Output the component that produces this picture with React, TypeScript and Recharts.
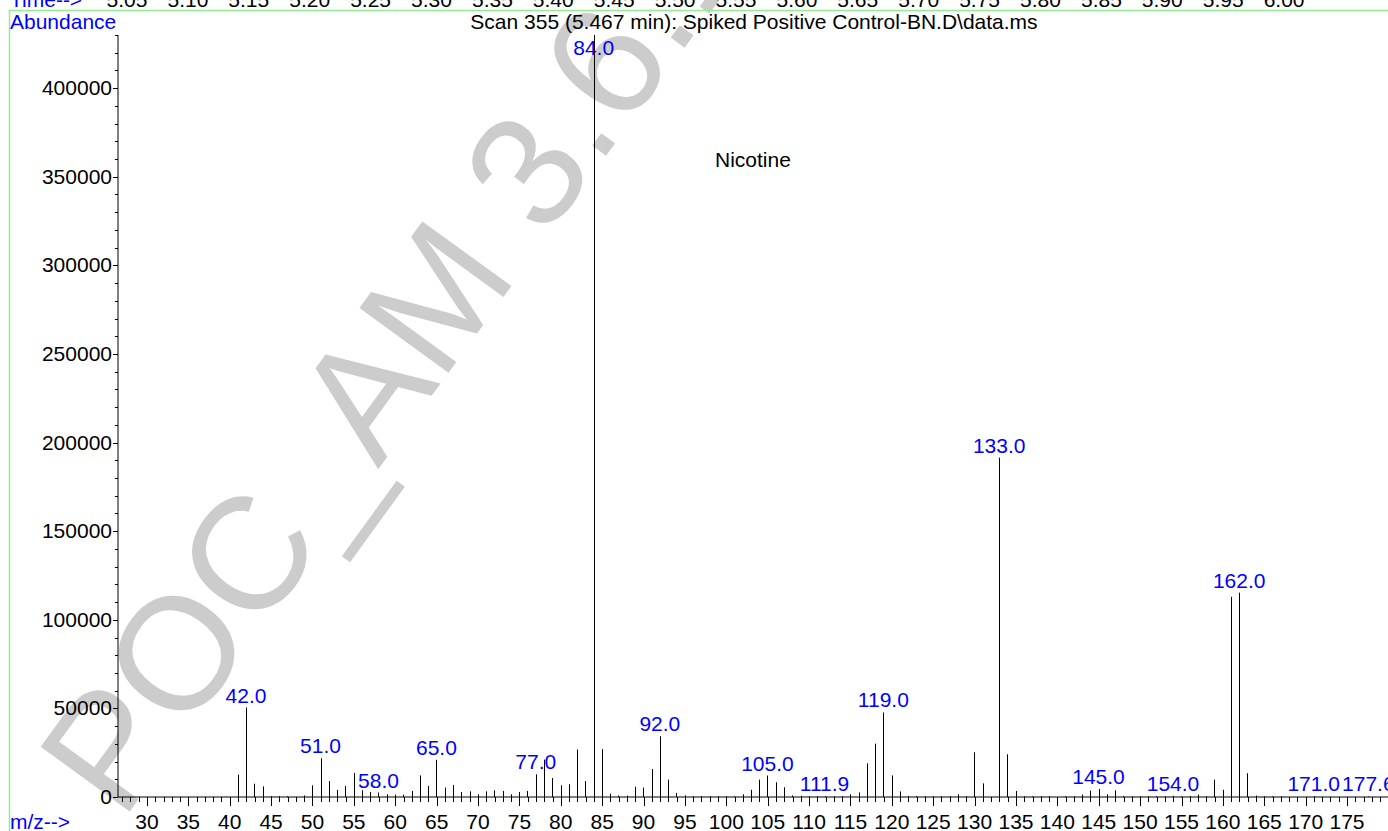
import { Bar, BarChart, LabelList, XAxis, YAxis } from "recharts";

const FONT = "'Liberation Sans', Arial, Helvetica, sans-serif";
const BLUE = "#0000ff";

// m/z of every stick and its abundance
const MZ = [
  41, 42, 43, 44, 45, 46, 47, 49, 50, 51, 52, 53, 54, 55, 56, 57, 58, 59, 60, 61, 62, 63, 64, 65, 66, 67, 68, 69, 70,
  71, 72, 73, 74, 75, 76, 77, 78, 79, 80, 81, 82, 83, 84, 85, 86, 87, 88, 89, 90, 91, 92, 93, 94, 95, 96, 97, 98, 99,
  100, 101, 102, 103, 104, 105, 106, 107, 108, 109, 110, 111, 111.9, 113, 114, 115, 116, 117, 118, 119, 120, 121, 122,
  123, 124, 125, 126, 127, 128, 129, 130, 131, 133, 134, 135, 136, 137, 138, 139, 141, 142, 143, 144, 145, 146, 147,
  148, 149, 150, 151, 152, 153, 154, 155, 156, 157, 158, 159, 160, 161, 162, 163, 164, 165, 166, 167, 171, 177.6,
];
const ABUNDANCE = [
  12600, 50500, 7500, 6000, 500, 500, 500, 900, 6600, 21800, 9000, 4000, 6200, 13600, 3800, 2800, 2500, 1500, 1300,
  1300, 3400, 12200, 6200, 21000, 5300, 6800, 2800, 3200, 1500, 3200, 3800, 3400, 1500, 2800, 3400, 12800, 21100,
  10700, 6600, 7200, 26800, 9000, 430000, 27000, 1900, 800, 800, 5800, 5300, 15800, 34300, 9800, 2300, 900, 400, 500,
  400, 400, 400, 400, 1500, 4100, 9800, 12100, 8300, 5500, 900, 700, 400, 400, 500, 400, 400, 1500, 2600, 19000,
  30100, 47700, 12200, 3200, 600, 500, 400, 400, 400, 400, 1500, 400, 25200, 7700, 191500, 24100, 3400, 400, 400,
  400, 400, 400, 400, 1300, 3600, 4500, 1500, 3800, 600, 400, 400, 400, 400, 400, 700, 400, 600, 1300, 400, 9800,
  4100, 113000, 115300, 13400, 800, 400, 400, 400, 400, 300,
];
// peaks that carry a blue m/z label
const LABELED = [42, 51, 58, 65, 77, 84, 92, 105, 111.9, 119, 133, 145, 154, 162, 171, 177.6];

const TIME_LABELS = [
  "5.05", "5.10", "5.15", "5.20", "5.25", "5.30", "5.35", "5.40", "5.45", "5.50",
  "5.55", "5.60", "5.65", "5.70", "5.75", "5.80", "5.85", "5.90", "5.95", "6.00",
];

const MZ_TICKS = Array.from({ length: 153 }, (_, i) => 27 + i);
const Y_TICKS = Array.from({ length: 44 }, (_, i) => i * 10000);

const data = MZ.map((mz, i) => ({
  mz,
  abundance: ABUNDANCE[i],
  label: LABELED.includes(mz) ? mz.toFixed(1) : "",
}));

const Stick = (props: any) => {
  const { x, y, width, height } = props;
  const cx = Math.round(x + width / 2) + 0.5;
  return <line x1={cx} x2={cx} y1={y} y2={y + height} stroke="#000" strokeWidth={1} />;
};

const PeakLabel = (props: any) => {
  const { x, y, width, value } = props;
  if (!value) return null;
  const cx = x + width / 2;
  const ty = y < 60 ? y + 20 : y - 5;
  return (
    <text x={cx} y={ty} textAnchor="middle" fill={BLUE} fontSize={21} fontFamily={FONT}>
      {value}
    </text>
  );
};

const XTick = (props: any) => {
  const { x, y, payload } = props;
  const major = payload.value % 5 === 0;
  const px = Math.round(x) + 0.5;
  return (
    <g>
      <line x1={px} x2={px} y1={y} y2={y + (major ? 9 : 5)} stroke="#000" />
      {major && (
        <text x={x} y={y + 32} textAnchor="middle" fill="#000" fontSize={21} fontFamily={FONT}>
          {payload.value}
        </text>
      )}
    </g>
  );
};

const YTick = (props: any) => {
  const { x, y, payload } = props;
  const major = payload.value % 50000 === 0;
  const py = Math.round(y) + 0.5;
  return (
    <g>
      <line x1={x - (major ? 5 : 3)} x2={x} y1={py} y2={py} stroke="#000" />
      {major && (
        <text x={x - 6} y={y + 7} textAnchor="end" fill="#000" fontSize={21} fontFamily={FONT}>
          {payload.value}
        </text>
      )}
    </g>
  );
};

export default function App() {
  return (
    <div style={{ position: "absolute", left: 0, top: 0, width: 1388, height: 831, background: "#fff", overflow: "hidden" }}>
      <svg width={1388} height={831} style={{ position: "absolute", left: 0, top: 0 }}>
        <text
          x={122}
          y={822}
          transform="rotate(-54 122 822)"
          fill="#cccccc"
          fontSize={160}
          fontFamily={FONT}
        >
          POC_AM 3.6.1
        </text>
      </svg>
      <div style={{ position: "absolute", left: 0, top: 0 }}>
        <BarChart width={1388} height={831} data={data} margin={{ top: 35, right: 0, bottom: 0, left: 0 }} barSize={1}>
          <XAxis
            dataKey="mz"
            type="number"
            domain={[26.5, 179.95]}
            allowDataOverflow
            ticks={MZ_TICKS}
            interval={0}
            tickSize={0}
            tickMargin={0}
            tick={<XTick />}
            height={34}
            axisLine={{ stroke: "#000" }}
          />
          <YAxis
            type="number"
            domain={[0, 430000]}
            allowDataOverflow
            ticks={Y_TICKS}
            interval={0}
            tickSize={0}
            tickMargin={0}
            tick={<YTick />}
            width={118}
            axisLine={{ stroke: "#000" }}
          />
          <Bar dataKey="abundance" shape={<Stick />} isAnimationActive={false}>
            <LabelList dataKey="label" content={<PeakLabel />} />
          </Bar>
        </BarChart>
      </div>
      <svg width={1388} height={831} style={{ position: "absolute", left: 0, top: 0, pointerEvents: "none" }}>
        <line x1={9} x2={1388} y1={10.5} y2={10.5} stroke="#90ee90" strokeWidth={1.5} />
        <line x1={9.5} x2={9.5} y1={10} y2={831} stroke="#90ee90" strokeWidth={1.5} />
        <text x={10} y={7} fill={BLUE} fontSize={21} fontFamily={FONT}>
          Time--&gt;
        </text>
        {TIME_LABELS.map((t, i) => (
          <text key={t} x={127 + i * 60.9} y={7} textAnchor="middle" fill="#000" fontSize={21} fontFamily={FONT}>
            {t}
          </text>
        ))}
        <text x={10} y={29} fill={BLUE} fontSize={21} fontFamily={FONT}>
          Abundance
        </text>
        <text x={754} y={29} textAnchor="middle" fill="#000" fontSize={21} fontFamily={FONT}>
          {"Scan 355 (5.467 min): Spiked Positive Control-BN.D\\data.ms"}
        </text>
        <text x={715} y={167} fill="#000" fontSize={21} fontFamily={FONT}>
          Nicotine
        </text>
        <text x={10} y={829} fill={BLUE} fontSize={21} fontFamily={FONT}>
          m/z--&gt;
        </text>
      </svg>
    </div>
  );
}
